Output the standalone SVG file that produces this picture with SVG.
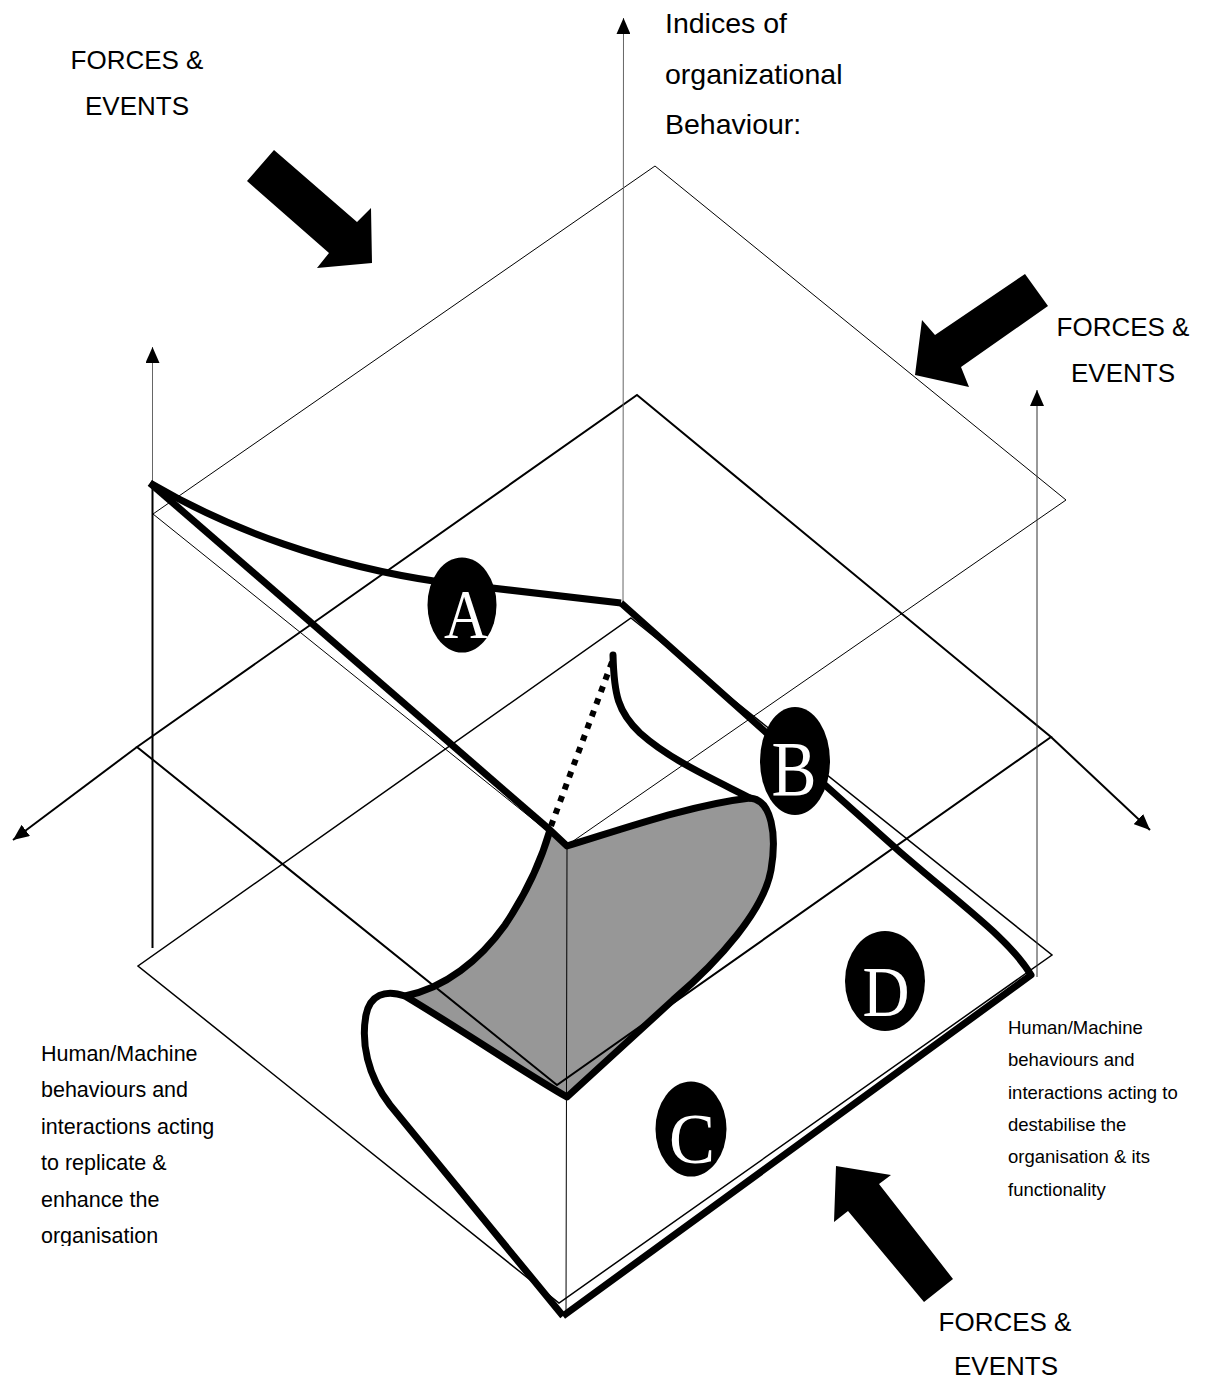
<svg xmlns="http://www.w3.org/2000/svg" width="1205" height="1380" viewBox="0 0 1205 1380">
<defs>
<style>
.t{font-family:"Liberation Sans",Arial,sans-serif;fill:#000}
.big{font-size:26px;text-anchor:middle}
.idx{font-size:28.5px}
.pl{font-size:21.5px}
.pr{font-size:18.5px}
.let{font-family:"Liberation Serif","Times New Roman",serif;fill:#fff;text-anchor:middle}
.thin{fill:none;stroke:#000;stroke-width:1}
.mid{fill:none;stroke:#000;stroke-width:2}
.bot{fill:none;stroke:#000;stroke-width:1.5}
.axis{fill:none;stroke:#666;stroke-width:1}
.thick{fill:none;stroke:#000;stroke-width:7;stroke-linejoin:round}
.blk{fill:#000}
</style>
<marker id="ah" viewBox="0 0 16 14" refX="16" refY="7" markerWidth="16" markerHeight="14" markerUnits="userSpaceOnUse" orient="auto"><path d="M0,0 L16,7 L0,14 Z" fill="#000"/></marker>
<clipPath id="clipL"><rect x="0" y="1000" width="300" height="246"/></clipPath>
</defs>
<rect width="1205" height="1380" fill="#fff"/>

<g id="surface-fill">
<path d="M550,830 L567,846 C620,830 690,805 750,798 C772,800 777,835 771,870 C764,910 720,960 673,1000 L567,1097 C520,1070 470,1035 405,996 C445,988 480,960 505,925 C525,895 540,865 550,830 Z" fill="#979797"/>
</g>

<g id="planes">
<polygon id="plane-top" class="thin" points="655,166 1066,500 566,846 153,514"/>
<polygon id="plane-middle" class="mid" points="637,395 1051,737 557,1085 137,747"/>
<polygon id="plane-bottom" class="bot" points="631,618 1052,955 559,1303 138,966"/>
<line id="front-edge" class="thin" x1="567" y1="846" x2="566" y2="1316"/>
</g>

<g id="connectors">
<line class="axis" x1="623" y1="603" x2="623.5" y2="18" marker-end="url(#ah)"/>
<line class="axis" x1="152.5" y1="485" x2="152.5" y2="347" marker-end="url(#ah)"/>
<line x1="152.5" y1="483" x2="152.5" y2="948" stroke="#000" stroke-width="2"/>
<line x1="1037" y1="977" x2="1037" y2="390" stroke="#333" stroke-width="1" marker-end="url(#ah)"/>
<line x1="137" y1="747" x2="13" y2="840" stroke="#000" stroke-width="2" marker-end="url(#ah)"/>
<line x1="1051" y1="737" x2="1150" y2="830" stroke="#000" stroke-width="2" marker-end="url(#ah)"/>
</g>

<g id="surface">
<path class="thick" stroke-width="6" d="M550,830 L567,846 C620,830 690,805 750,798 C772,800 777,835 771,870 C764,910 720,960 673,1000 L567,1097 C520,1070 470,1035 405,996 C445,988 480,960 505,925 C525,895 540,865 550,830 Z"/>
<path class="thick" stroke-width="6" d="M405,996 C385,989 370,995 366,1015 C361,1042 367,1075 390,1105 L563,1316"/>
<path class="thick" stroke-width="6" stroke-linecap="round" d="M613,655 C614,695 618,712 640,733 C670,760 715,780 750,798"/>
<line x1="551" y1="826" x2="612" y2="662" stroke="#000" stroke-width="6" stroke-dasharray="6 7"/>
<path class="thick" d="M150,483 L550,830"/>
<path class="thick" stroke-width="6" d="M150,483 C230,530 330,566 440,582 L621,603"/>
<path class="thick" stroke-linejoin="miter" d="M621,603 L900,852 C965,908 1010,940 1031,975 L563,1316"/>
</g>

<g id="node-A"><ellipse cx="462" cy="605" rx="34.5" ry="47.5" class="blk"/><text class="let" x="466" y="638" font-size="70" textLength="44" lengthAdjust="spacingAndGlyphs">A</text></g>
<g id="node-B"><ellipse cx="795" cy="761" rx="35" ry="54" class="blk"/><text class="let" x="794" y="795" font-size="78" textLength="45" lengthAdjust="spacingAndGlyphs">B</text></g>
<g id="node-C"><ellipse cx="691" cy="1129" rx="35.5" ry="47.5" class="blk"/><text class="let" x="692" y="1163" font-size="71" textLength="46" lengthAdjust="spacingAndGlyphs">C</text></g>
<g id="node-D"><ellipse cx="885" cy="981" rx="40" ry="50" class="blk"/><text class="let" x="886" y="1016" font-size="72" textLength="47" lengthAdjust="spacingAndGlyphs">D</text></g>

<g id="force-arrows">
<polygon class="blk" points="274,150 357,222 371,208 372,263 317,268 329,253 247,181"/>
<polygon class="blk" points="1025,274 1048,306 961,367 969,387 915,375 922,320 935,335"/>
<polygon class="blk" points="836,1166 891,1175 879,1184 953,1279 924,1302 848,1211 834,1222"/>
</g>

<g id="labels">
<text class="t big" x="137" y="69">FORCES &amp;</text>
<text class="t big" x="137" y="115">EVENTS</text>
<text class="t big" x="1123" y="336">FORCES &amp;</text>
<text class="t big" x="1123" y="382">EVENTS</text>
<text class="t big" x="1005" y="1331">FORCES &amp;</text>
<text class="t big" x="1006" y="1375">EVENTS</text>
<text class="t idx" x="665" y="33">Indices of</text>
<text class="t idx" x="665" y="84">organizational</text>
<text class="t idx" x="665" y="134">Behaviour:</text>
<g clip-path="url(#clipL)">
<text class="t pl" x="41" y="1061">Human/Machine</text>
<text class="t pl" x="41" y="1097">behaviours and</text>
<text class="t pl" x="41" y="1134">interactions acting</text>
<text class="t pl" x="41" y="1170">to replicate &amp;</text>
<text class="t pl" x="41" y="1207">enhance the</text>
<text class="t pl" x="41" y="1243">organisation</text>
</g>
<text class="t pr" x="1008" y="1034">Human/Machine</text>
<text class="t pr" x="1008" y="1066">behaviours and</text>
<text class="t pr" x="1008" y="1098.5">interactions acting to</text>
<text class="t pr" x="1008" y="1131">destabilise the</text>
<text class="t pr" x="1008" y="1163">organisation &amp; its</text>
<text class="t pr" x="1008" y="1195.5">functionality</text>
</g>
</svg>
